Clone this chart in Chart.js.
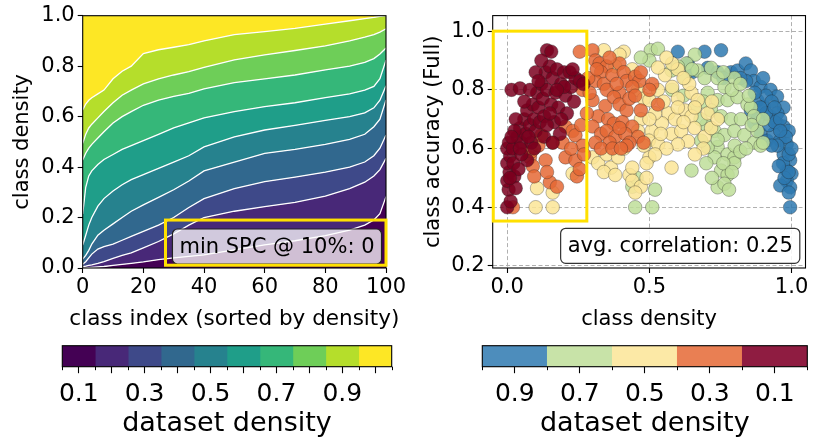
<!DOCTYPE html>
<html>
<head>
<meta charset="utf-8">
<script src="https://cdn.jsdelivr.net/npm/chart.js@4.4.1/dist/chart.umd.min.js"></script>
<style>
  html, body { margin: 0; padding: 0; background: #fff; overflow: hidden; }
  #wrap { position: relative; width: 813px; height: 439px; }
  canvas { position: absolute; }
</style>
</head>
<body>
<div id="wrap">
  <canvas id="areaChart" width="420" height="332" style="left:0;top:0"></canvas>
  <canvas id="scatterChart" width="393" height="332" style="left:420px;top:0"></canvas>
  <canvas id="cbLeft" width="420" height="109" style="left:0;top:330px"></canvas>
  <canvas id="cbRight" width="373" height="109" style="left:440px;top:330px"></canvas>
</div>
<script>
// left panel: cumulative class density per dataset-density level, classes sorted by density
const classIdx = [0, 1, 2, 3, 5, 7, 10, 13, 16, 20, 25, 30, 35, 40, 50, 60, 70, 80, 88, 93, 96, 98, 100];
const bound1 = [0.000,0.000,0.001,0.002,0.004,0.006,0.010,0.014,0.018,0.024,0.033,0.040,0.046,0.052,0.072,0.092,0.108,0.128,0.150,0.170,0.190,0.215,0.283];
const bound2 = [0.005,0.007,0.010,0.012,0.018,0.025,0.038,0.050,0.060,0.080,0.105,0.135,0.170,0.200,0.225,0.243,0.260,0.285,0.315,0.340,0.365,0.390,0.435];
const bound3 = [0.015,0.025,0.040,0.055,0.075,0.085,0.095,0.110,0.125,0.145,0.170,0.200,0.240,0.275,0.315,0.342,0.360,0.380,0.400,0.420,0.445,0.475,0.527];
const bound4 = [0.035,0.050,0.070,0.095,0.130,0.150,0.175,0.200,0.225,0.250,0.280,0.310,0.345,0.385,0.420,0.454,0.470,0.490,0.510,0.530,0.560,0.590,0.666];
const bound5 = [0.091,0.130,0.170,0.200,0.245,0.275,0.305,0.330,0.350,0.370,0.395,0.420,0.445,0.480,0.520,0.547,0.565,0.585,0.600,0.615,0.635,0.665,0.722];
const bound6 = [0.214,0.320,0.365,0.385,0.410,0.430,0.450,0.470,0.485,0.505,0.530,0.555,0.575,0.595,0.620,0.640,0.655,0.675,0.690,0.705,0.720,0.750,0.824];
const bound7 = [0.428,0.455,0.475,0.490,0.515,0.540,0.575,0.600,0.620,0.645,0.665,0.680,0.692,0.710,0.735,0.750,0.765,0.785,0.800,0.815,0.830,0.848,0.872];
const bound8 = [0.494,0.530,0.555,0.570,0.595,0.620,0.655,0.685,0.705,0.730,0.750,0.765,0.778,0.795,0.825,0.845,0.862,0.880,0.900,0.915,0.925,0.935,0.948];
const bound9 = [0.626,0.650,0.665,0.675,0.690,0.705,0.750,0.780,0.800,0.850,0.865,0.875,0.885,0.900,0.925,0.937,0.950,0.967,0.980,0.988,0.993,0.997,1.000];
const classTicks = [0, 20, 40, 60, 80, 100];
const fracTicks = [0, 0.2, 0.4, 0.6, 0.8, 1.0];

// right panel: class accuracy vs class density, one list per dataset density
const pts01 = [[0.000,0.400],[0.005,0.460],[0.000,0.490],[0.008,0.520],[0.000,0.550],[0.010,0.575],[0.000,0.600],[0.006,0.620],[0.020,0.600],[0.022,0.550],[0.025,0.505],[0.030,0.465],[0.015,0.800],[0.045,0.805],[0.035,0.640],[0.045,0.670],[0.050,0.620],[0.060,0.700],[0.065,0.650],[0.070,0.730],[0.080,0.680],[0.085,0.620],[0.090,0.750],[0.095,0.700],[0.100,0.660],[0.105,0.790],[0.110,0.740],[0.115,0.690],[0.120,0.820],[0.125,0.770],[0.130,0.710],[0.135,0.860],[0.140,0.800],[0.140,0.935],[0.155,0.930],[0.150,0.880],[0.155,0.750],[0.160,0.840],[0.165,0.690],[0.170,0.790],[0.175,0.870],[0.180,0.740],[0.185,0.650],[0.190,0.820],[0.200,0.860],[0.205,0.780],[0.210,0.720],[0.220,0.860],[0.225,0.810],[0.235,0.760],[0.240,0.840],[0.255,0.830],[0.268,0.820],[0.070,0.560],[0.050,0.580],[0.040,0.530],[0.080,0.800],[0.100,0.860],[0.120,0.900],[0.060,0.760],[0.030,0.700],[0.025,0.660],[0.015,0.640],[0.130,0.640],[0.160,0.620],[0.190,0.700],[0.200,0.810],[0.110,0.830],[0.140,0.680],[0.012,0.420],[0.045,0.600],[0.075,0.640],[0.095,0.600],[0.150,0.720],[0.175,0.800],[0.230,0.870],[0.010,0.500]];
const pts03 = [[0.020,0.400],[0.080,0.570],[0.090,0.540],[0.095,0.505],[0.085,0.590],[0.110,0.610],[0.135,0.560],[0.150,0.485],[0.175,0.470],[0.160,0.620],[0.195,0.620],[0.205,0.570],[0.205,0.675],[0.230,0.660],[0.240,0.645],[0.240,0.560],[0.245,0.505],[0.255,0.530],[0.265,0.610],[0.270,0.580],[0.225,0.600],[0.140,0.520],[0.120,0.645],[0.260,0.680],[0.255,0.930],[0.265,0.800],[0.300,0.935],[0.310,0.900],[0.325,0.890],[0.350,0.880],[0.330,0.860],[0.310,0.830],[0.340,0.820],[0.370,0.850],[0.395,0.890],[0.410,0.860],[0.420,0.830],[0.450,0.845],[0.465,0.830],[0.440,0.810],[0.395,0.790],[0.350,0.800],[0.300,0.765],[0.345,0.745],[0.375,0.775],[0.395,0.750],[0.420,0.730],[0.430,0.770],[0.320,0.710],[0.355,0.700],[0.375,0.685],[0.405,0.690],[0.440,0.675],[0.460,0.640],[0.300,0.675],[0.330,0.650],[0.350,0.660],[0.380,0.640],[0.415,0.650],[0.395,0.670],[0.430,0.620],[0.360,0.620],[0.310,0.620],[0.330,0.600],[0.370,0.600],[0.420,0.610],[0.480,0.620],[0.510,0.820],[0.530,0.750],[0.500,0.800],[0.470,0.860],[0.290,0.790],[0.285,0.840],[0.450,0.780],[0.470,0.730],[0.315,0.870],[0.385,0.820],[0.360,0.910],[0.280,0.720],[0.400,0.600]];
const pts05 = [[0.100,0.400],[0.160,0.400],[0.105,0.465],[0.160,0.450],[0.230,0.515],[0.300,0.570],[0.320,0.550],[0.350,0.580],[0.365,0.535],[0.340,0.520],[0.380,0.510],[0.430,0.510],[0.440,0.535],[0.440,0.490],[0.500,0.570],[0.490,0.550],[0.340,0.935],[0.410,0.930],[0.395,0.920],[0.380,0.880],[0.440,0.870],[0.460,0.800],[0.480,0.770],[0.500,0.765],[0.530,0.800],[0.555,0.850],[0.580,0.810],[0.600,0.770],[0.625,0.730],[0.648,0.710],[0.567,0.720],[0.544,0.686],[0.508,0.660],[0.498,0.627],[0.531,0.615],[0.578,0.650],[0.612,0.660],[0.636,0.625],[0.659,0.670],[0.600,0.614],[0.578,0.535],[0.600,0.870],[0.530,0.876],[0.648,0.790],[0.670,0.765],[0.705,0.720],[0.694,0.640],[0.717,0.670],[0.520,0.720],[0.550,0.760],[0.590,0.700],[0.620,0.690],[0.560,0.600],[0.470,0.700],[0.460,0.660],[0.480,0.610],[0.520,0.580],[0.640,0.820],[0.620,0.840],[0.580,0.890],[0.560,0.910],[0.690,0.600],[0.660,0.580],[0.470,0.470],[0.490,0.500],[0.450,0.450],[0.390,0.570],[0.410,0.600],[0.720,0.760],[0.740,0.700],[0.540,0.650],[0.600,0.740],[0.660,0.740],[0.500,0.700]];
const pts07 = [[0.450,0.400],[0.510,0.400],[0.440,0.470],[0.520,0.460],[0.455,0.500],[0.505,0.935],[0.530,0.940],[0.500,0.900],[0.470,0.910],[0.578,0.866],[0.625,0.840],[0.670,0.866],[0.694,0.840],[0.717,0.875],[0.740,0.840],[0.764,0.810],[0.799,0.840],[0.705,0.790],[0.740,0.765],[0.775,0.765],[0.810,0.775],[0.845,0.750],[0.717,0.730],[0.752,0.710],[0.787,0.700],[0.822,0.700],[0.857,0.740],[0.729,0.660],[0.764,0.646],[0.799,0.660],[0.834,0.646],[0.868,0.620],[0.891,0.610],[0.740,0.605],[0.775,0.580],[0.799,0.570],[0.729,0.570],[0.752,0.525],[0.775,0.510],[0.799,0.550],[0.740,0.468],[0.764,0.480],[0.648,0.525],[0.705,0.605],[0.682,0.627],[0.868,0.710],[0.660,0.920],[0.630,0.890],[0.600,0.880],[0.650,0.870],[0.760,0.860],[0.790,0.800],[0.820,0.820],[0.850,0.780],[0.880,0.660],[0.860,0.680],[0.900,0.700],[0.700,0.680],[0.680,0.700],[0.660,0.740],[0.800,0.610],[0.820,0.590],[0.760,0.550],[0.790,0.520],[0.720,0.500],[0.780,0.460],[0.840,0.600],[0.700,0.550],[0.900,0.620],[0.620,0.780],[0.580,0.800],[0.690,0.760],[0.740,0.630]];
const pts09 = [[0.600,0.930],[0.694,0.930],[0.752,0.935],[0.635,0.890],[0.705,0.875],[0.740,0.860],[0.787,0.860],[0.810,0.866],[0.839,0.890],[0.857,0.866],[0.868,0.830],[0.891,0.810],[0.926,0.800],[0.949,0.777],[0.972,0.740],[0.880,0.764],[0.903,0.742],[0.926,0.710],[0.949,0.686],[0.972,0.675],[0.857,0.730],[0.868,0.686],[0.891,0.650],[0.914,0.627],[0.937,0.650],[0.960,0.627],[0.983,0.615],[0.972,0.580],[0.995,0.560],[0.983,0.525],[1.000,0.514],[0.983,0.490],[0.995,0.468],[0.960,0.474],[0.995,0.400],[0.910,0.780],[0.930,0.760],[0.950,0.720],[0.920,0.680],[0.940,0.690],[0.960,0.700],[0.990,0.660],[0.980,0.640],[0.950,0.610],[0.930,0.610],[0.970,0.550],[0.990,0.580],[1.000,0.600],[0.975,0.500],[0.990,0.450],[0.910,0.720],[0.890,0.740],[0.870,0.790],[0.840,0.830],[0.900,0.840],[0.820,0.840],[0.760,0.840],[0.650,0.860],[0.880,0.700],[0.960,0.660],[0.940,0.740],[0.990,0.520],[0.955,0.540]];
const densTicks = [0, 0.5, 1.0];
const accTicks = [0.2, 0.4, 0.6, 0.8, 1.0];

// colorbars
const levelCenters = [0.1, 0.2, 0.3, 0.4, 0.5, 0.6, 0.7, 0.8, 0.9, 1.0];
const levelEdges = [0.05, 0.15, 0.25, 0.35, 0.45, 0.55, 0.65, 0.75, 0.85, 0.95, 1.05];
const levelLabels = [0.1, 0.3, 0.5, 0.7, 0.9];
const groupEdges = [0, 0.2, 0.4, 0.6, 0.8, 1.0];
const groupTicks = [0.9, 0.7, 0.5, 0.3, 0.1];

const viridis10 = ['#440154', '#482878', '#3e4989', '#31688e', '#26828e', '#1f9e89', '#35b779', '#6ece58', '#b5de2b', '#fde725'];
const groupColors = ['#8f1c41', '#e97f53', '#fce9a6', '#c8e3a8', '#4d8dbc']; // 0.1 .. 0.9
const pointFill = ['rgba(123,0,31,0.85)', 'rgba(229,104,53,0.85)', 'rgba(251,229,150,0.85)', 'rgba(190,222,153,0.85)', 'rgba(46,121,176,0.85)'];
const highlight = '#ffe000';

Chart.defaults.font.family = '"DejaVu Sans", sans-serif';
Chart.defaults.color = '#000';

const tickFont = { size: 21 };
const labelFont = { size: 21 };

function drawTextBox(ctx, text, right, bottom, fill, stroke) {
    ctx.font = '21px "DejaVu Sans"';
    const w = ctx.measureText(text).width + 14;
    const h = 35;
    const left = right - w, top = bottom - h;
    ctx.beginPath();
    ctx.roundRect(left, top, w, h, 5);
    ctx.fillStyle = fill;
    ctx.fill();
    ctx.lineWidth = 1.2;
    ctx.strokeStyle = stroke;
    ctx.stroke();
    ctx.fillStyle = '#000';
    ctx.textAlign = 'center';
    ctx.textBaseline = 'middle';
    ctx.fillText(text, left + w / 2, top + h / 2 + 1);
}

function frame(ctx, a) {
    ctx.strokeStyle = '#000';
    ctx.lineWidth = 1.1;
    ctx.strokeRect(a.left, a.top, a.right - a.left, a.bottom - a.top);
}

// ---------- left: stacked density bands ----------
const bounds = [bound1, bound2, bound3, bound4, bound5, bound6, bound7, bound8, bound9];
const areaSets = bounds.map((b, i) => ({
    data: classIdx.map((x, j) => ({ x: x, y: b[j] })),
    backgroundColor: viridis10[i],
    borderColor: '#ffffff',
    borderWidth: 1.3,
    fill: i === 0 ? 'origin' : '-1',
    pointRadius: 0,
    tension: 0
}));
areaSets.push({
    data: classIdx.map((x, j) => ({ x: x, y: bound9[j] })),
    backgroundColor: viridis10[9],
    borderColor: 'rgba(0,0,0,0)',
    borderWidth: 1,
    fill: 'end',
    pointRadius: 0
});

const leftOverlay = {
    id: 'leftOverlay',
    afterDraw(chart) {
        const { ctx, chartArea, scales: { x, y } } = chart;
        ctx.save();
        frame(ctx, chartArea);
        drawTextBox(ctx, 'min SPC @ 10%: 0', chartArea.right - 4.5, chartArea.bottom - 4, 'rgba(255,255,255,0.75)', '#222');
        const x0 = x.getPixelForValue(27.3), x1 = x.getPixelForValue(100);
        const y0 = y.getPixelForValue(0.19), y1 = y.getPixelForValue(0.011);
        ctx.strokeStyle = highlight;
        ctx.lineWidth = 3;
        ctx.strokeRect(x0, y0, x1 - x0, y1 - y0);
        // x axis title drawn here so it is not squeezed to the axis width
        ctx.font = '21.5px "DejaVu Sans"';
        ctx.fillStyle = '#000';
        ctx.textAlign = 'center';
        ctx.textBaseline = 'middle';
        ctx.fillText('class index (sorted by density)', (chartArea.left + chartArea.right) / 2, 319);
        ctx.restore();
    }
};

new Chart(document.getElementById('areaChart'), {
    type: 'line',
    data: { datasets: areaSets },
    options: {
        responsive: false,
        animation: false,
        events: [],
        layout: { padding: { left: 0, right: 34, top: 15.7, bottom: 0 } },
        plugins: {
            legend: { display: false },
            tooltip: { enabled: false },
            filler: { drawTime: 'beforeDatasetsDraw' }
        },
        scales: {
            x: {
                type: 'linear', min: 0, max: 100,
                afterFit: s => { s.height = 64; },
                afterBuildTicks: s => { s.ticks = classTicks.map(v => ({ value: v })); },
                ticks: { font: tickFont, color: '#000', padding: 2, maxRotation: 0, autoSkip: false },
                grid: { drawOnChartArea: false, tickLength: 5, tickColor: '#000', tickWidth: 1.1 },
                border: { display: false },
                title: { display: false }
            },
            y: {
                type: 'linear', min: 0, max: 1,
                afterFit: s => { s.width = 82.7; },
                afterBuildTicks: s => { s.ticks = fracTicks.map(v => ({ value: v })); },
                ticks: { font: tickFont, color: '#000', padding: 3, callback: v => v.toFixed(1) },
                grid: { drawOnChartArea: false, tickLength: 5, tickColor: '#000', tickWidth: 1.1 },
                border: { display: false },
                title: { display: true, text: 'class density', font: labelFont, color: '#000', padding: { top: 10, bottom: 0 } }
            }
        }
    },
    plugins: [leftOverlay]
});

// ---------- right: accuracy vs density scatter ----------
const groups = [pts01, pts03, pts05, pts07, pts09];
const scatterSets = groups.map((pts, i) => ({
    data: pts.map(p => ({ x: p[0], y: p[1] })),
    backgroundColor: pointFill[i],
    borderColor: 'rgba(30,30,30,0.45)',
    borderWidth: 0.7,
    pointRadius: 6.8
}));

const rightOverlay = {
    id: 'rightOverlay',
    afterDraw(chart) {
        const { ctx, chartArea, scales: { x, y } } = chart;
        ctx.save();
        frame(ctx, chartArea);
        drawTextBox(ctx, 'avg. correlation: 0.25', chartArea.right - 5.7, chartArea.bottom - 4.7, 'rgba(255,255,255,0.85)', '#333');
        const x0 = x.getPixelForValue(-0.049), x1 = x.getPixelForValue(0.28);
        const y0 = y.getPixelForValue(1.0), y1 = y.getPixelForValue(0.353);
        ctx.strokeStyle = highlight;
        ctx.lineWidth = 3;
        ctx.strokeRect(x0, y0, x1 - x0, y1 - y0);
        ctx.restore();
    }
};

new Chart(document.getElementById('scatterChart'), {
    type: 'scatter',
    data: { datasets: scatterSets },
    options: {
        responsive: false,
        animation: false,
        events: [],
        layout: { padding: { left: 0, right: 4, top: 15, bottom: 0 } },
        plugins: { legend: { display: false }, tooltip: { enabled: false } },
        scales: {
            x: {
                type: 'linear', min: -0.051, max: 1.049,
                afterFit: s => { s.height = 64; },
                afterBuildTicks: s => { s.ticks = densTicks.map(v => ({ value: v })); },
                ticks: { font: tickFont, color: '#000', padding: 2, maxRotation: 0, autoSkip: false, callback: v => v.toFixed(1) },
                grid: { color: '#b0b0b0', lineWidth: 1, tickLength: 5, tickColor: '#000', tickWidth: 1.1 },
                border: { display: false, dash: [4, 2.5] },
                title: { display: true, text: 'class density', font: labelFont, color: '#000', padding: { top: 0, bottom: 0 } }
            },
            y: {
                type: 'linear', min: 0.193, max: 1.053,
                afterFit: s => { s.width = 72.7; },
                afterBuildTicks: s => { s.ticks = accTicks.map(v => ({ value: v })); },
                ticks: { font: tickFont, color: '#000', padding: 3, callback: v => v.toFixed(1) },
                grid: { color: '#b0b0b0', lineWidth: 1, tickLength: 5, tickColor: '#000', tickWidth: 1.1 },
                border: { display: false, dash: [4, 2.5] },
                title: { display: true, text: 'class accuracy (Full)', font: labelFont, color: '#000', padding: { top: 1, bottom: 0 } }
            }
        }
    },
    plugins: [rightOverlay]
});

// ---------- colorbars ----------
function makeColorbar(id, edges, colors, tickVals, labelVals, reverse, padLeft, padRight) {
    const sets = colors.map((c, i) => ({
        data: [[edges[i], edges[i + 1]]],
        backgroundColor: c,
        borderWidth: 0,
        barPercentage: 1,
        categoryPercentage: 1,
        grouped: false
    }));
    const edgeTicks = {
        id: 'edgeTicks',
        afterDraw(chart) {
            const { ctx, chartArea, scales: { x } } = chart;
            ctx.save();
            ctx.strokeStyle = '#000';
            ctx.lineWidth = 1;
            edges.forEach(e => {
                const px = Math.round(x.getPixelForValue(e)) + 0.5;
                ctx.beginPath();
                ctx.moveTo(px, chartArea.bottom);
                ctx.lineTo(px, chartArea.bottom + 3.5);
                ctx.stroke();
            });
            frame(ctx, chartArea);
            ctx.restore();
        }
    };
    new Chart(document.getElementById(id), {
        type: 'bar',
        data: { labels: [''], datasets: sets },
        options: {
            indexAxis: 'y',
            responsive: false,
            animation: false,
            events: [],
            layout: { padding: { left: padLeft, right: padRight, top: 15.7, bottom: 2 } },
            plugins: { legend: { display: false }, tooltip: { enabled: false } },
            scales: {
                y: { display: false },
                x: {
                    type: 'linear', min: edges[0], max: edges[edges.length - 1], reverse: reverse,
                    afterFit: s => { s.height = 70.3; },
                    afterBuildTicks: s => { s.ticks = tickVals.map(v => ({ value: v })); },
                    ticks: {
                        font: { size: 25 }, color: '#000', padding: 6, maxRotation: 0, autoSkip: false,
                        callback: v => labelVals.some(l => Math.abs(l - v) < 1e-6) ? v.toFixed(1) : ''
                    },
                    grid: { drawOnChartArea: false, tickLength: 6.5, tickColor: '#000', tickWidth: 1.1 },
                    border: { display: false },
                    title: { display: true, text: 'dataset density', font: { size: 27, lineHeight: 1 }, color: '#000', padding: { top: 0, bottom: 0 } }
                }
            }
        },
        plugins: [edgeTicks]
    });
}

makeColorbar('cbLeft', levelEdges, viridis10, levelCenters, levelLabels, false, 62.3, 28.3);
makeColorbar('cbRight', groupEdges, groupColors, groupTicks, groupTicks, true, 42.3, 5.7);
</script>
</body>
</html>
